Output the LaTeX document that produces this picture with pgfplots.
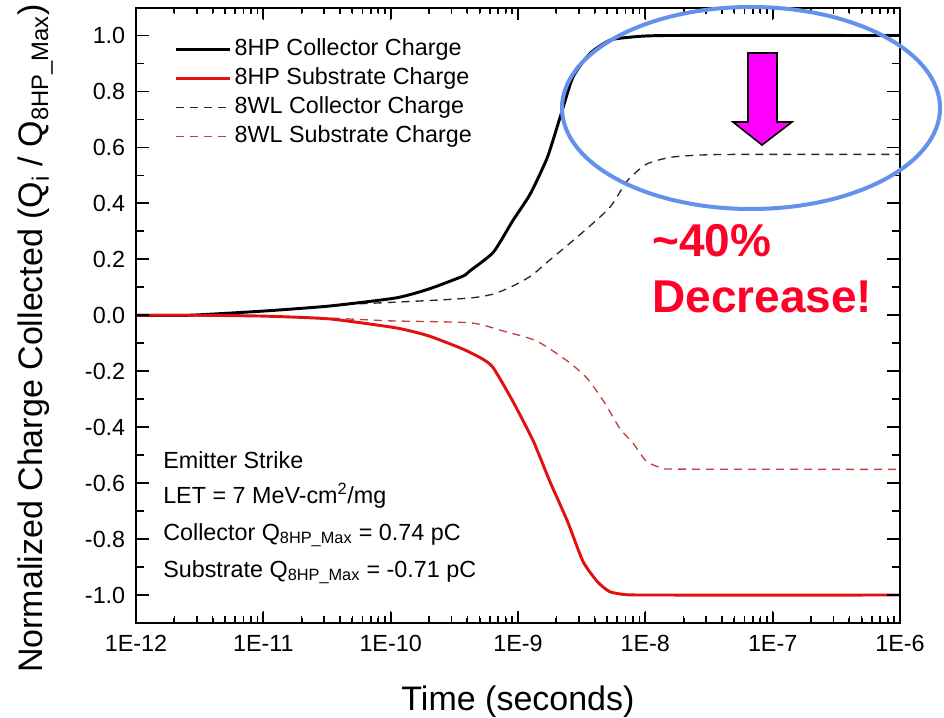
\documentclass[border=0pt]{standalone}
\usepackage{fontspec}
\setmainfont{Liberation Sans}
\usepackage{pgfplots}
\pgfplotsset{compat=1.18}

\definecolor{hpred}{RGB}{226,16,16}
\definecolor{wlred}{RGB}{196,64,64}
\definecolor{wlblack}{RGB}{40,40,40}
\definecolor{ringblue}{RGB}{100,145,235}
\definecolor{callred}{RGB}{255,0,40}
\definecolor{arrowmag}{RGB}{255,0,255}

\pgfplotsset{
  hpcol/.style={black, line width=2.2pt, smooth, tension=0.35},
  hpsub/.style={hpred, line width=2.2pt, smooth, tension=0.35},
  wlcol/.style={wlblack, line width=1pt, dash pattern=on 6pt off 4.5pt, smooth, tension=0.4},
  wlsub/.style={wlred, line width=1pt, dash pattern=on 6pt off 4.5pt, smooth, tension=0.4},
}
\tikzset{tickmark/.style={black, line width=1.3pt}}

\newcommand{\notefont}{\fontsize{17.5}{21}\selectfont}

\begin{document}
\begin{tikzpicture}
\begin{axis}[
  scale only axis, width=573pt, height=461.6pt,
  axis on top,
  xmode=log, xmin=1e-12, xmax=1e-6, ymin=-1.1, ymax=1.1,
  xtick={1e-12,1e-11,1e-10,1e-9,1e-8,1e-7,1e-6},
  xticklabels={1E-12,1E-11,1E-10,1E-9,1E-8,1E-7,1E-6},
  ytick={-1,-0.8,-0.6,-0.4,-0.2,0,0.2,0.4,0.6,0.8,1},
  yticklabels={-1.0,-0.8,-0.6,-0.4,-0.2,0.0,0.2,0.4,0.6,0.8,1.0},
  tick align=inside, tick pos=both,
  major tick length=9pt, minor tick length=5pt,
  every tick/.append style={black, line width=1.2pt},
  every axis/.append style={line width=1.5pt},
  tick label style={font=\notefont},
  yticklabel style={xshift=-4pt},
  xticklabel style={yshift=-5pt},
  xlabel={Time (seconds)},
  ylabel={Normalized Charge Collected (Q\textsubscript{i} / Q\textsubscript{8HP\_Max})},
  label style={font=\fontsize{25.5}{30}\selectfont},
  xlabel style={at={(axis description cs:0.5,-0.1414)}, anchor=base},
  ylabel style={at={(axis description cs:-0.1217,0.4622)}, anchor=base},
  legend cell align=left,
  legend image code/.code={\draw[#1, sharp plot] (0pt,0pt) -- (41pt,0pt);},
  legend style={draw=none, fill=none, at={(axis description cs:0.0489,0.956)},
    anchor=north west, font=\notefont, row sep=0.75pt,
    inner sep=0pt, nodes={inner sep=2pt, text height=13pt, text depth=4pt}},
]
% 8WL curves underneath the 8HP curves
\addplot[wlcol, forget plot] coordinates {
  (1e-12,0) (2.6e-12,0) (1e-11,0.015) (3.3e-11,0.033) (4.6e-11,0.039)
  (1e-10,0.046) (2.5e-10,0.055) (4.5e-10,0.063) (6.3e-10,0.075)
  (8.7e-10,0.1) (1.26e-9,0.14) (1.7e-9,0.19) (3.1e-9,0.29)
  (5.25e-9,0.385) (7.2e-9,0.48) (1.02e-8,0.54) (1.55e-8,0.564)
  (2.5e-8,0.572) (5e-8,0.575) (1e-6,0.575)
};
\addplot[wlsub, forget plot] coordinates {
  (1e-12,0) (3e-12,0) (1e-11,-0.003) (3.3e-11,-0.01) (1e-10,-0.02)
  (4.2e-10,-0.027) (7.6e-10,-0.056) (1.4e-9,-0.092) (2.45e-9,-0.164)
  (3.47e-9,-0.224) (4.7e-9,-0.307) (6.3e-9,-0.404) (8.1e-9,-0.46)
  (1.02e-8,-0.522) (1.38e-8,-0.547) (2e-8,-0.55) (1e-6,-0.551)
};
% 8HP curves
\addplot[hpcol] coordinates {
  (1e-12,0) (2.6e-12,0) (1e-11,0.015) (3.3e-11,0.033) (1.1e-10,0.062)
  (2e-10,0.094) (3.7e-10,0.14) (4.2e-10,0.159) (6.4e-10,0.225)
  (9.1e-10,0.338) (1.25e-9,0.434) (1.7e-9,0.564) (2.14e-9,0.707)
  (2.7e-9,0.851) (3.7e-9,0.937) (5.25e-9,0.983) (7.6e-9,0.994)
  (1.5e-8,1.0) (1e-6,1.0)
};
\addlegendentry{8HP Collector Charge}
\addplot[hpsub] coordinates {
  (1e-12,0) (3e-12,0) (1e-11,-0.003) (3.3e-11,-0.013) (1.1e-10,-0.045)
  (2e-10,-0.074) (3.7e-10,-0.121) (5.3e-10,-0.157) (6.4e-10,-0.188)
  (9.1e-10,-0.307) (1.32e-9,-0.45) (1.78e-9,-0.594) (2.45e-9,-0.737)
  (3.24e-9,-0.88) (4.2e-9,-0.952) (5.25e-9,-0.988) (7.2e-9,-0.999)
  (1.5e-8,-1.0) (1e-6,-1.0)
};
\addlegendentry{8HP Substrate Charge}
\addlegendimage{wlcol}
\addlegendentry{8WL Collector Charge}
\addlegendimage{wlsub}
\addlegendentry{8WL Substrate Charge}

% inward tick marks on all four sides of the frame
\pgfplotsinvokeforeach{-1,-0.8,-0.6,-0.4,-0.2,0,0.2,0.4,0.6,0.8,1}{
  \draw[tickmark] (axis cs:1e-12,#1) -- ++(10pt,0pt);
  \draw[tickmark] (axis cs:1e-6,#1) -- ++(-10pt,0pt);
}
\pgfplotsinvokeforeach{-0.9,-0.7,-0.5,-0.3,-0.1,0.1,0.3,0.5,0.7,0.9}{
  \draw[tickmark] (axis cs:1e-12,#1) -- ++(6pt,0pt);
  \draw[tickmark] (axis cs:1e-6,#1) -- ++(-6pt,0pt);
}
\pgfplotsinvokeforeach{1e-11,1e-10,1e-9,1e-8,1e-7}{
  \draw[tickmark] (axis cs:#1,-1.1) -- ++(0pt,8.5pt);
  \draw[tickmark] (axis cs:#1,1.1) -- ++(0pt,-8.5pt);
}
\pgfplotsinvokeforeach{2e-12,3e-12,4e-12,5e-12,6e-12,7e-12,8e-12,9e-12,
    2e-11,3e-11,4e-11,5e-11,6e-11,7e-11,8e-11,9e-11,
    2e-10,3e-10,4e-10,5e-10,6e-10,7e-10,8e-10,9e-10,
    2e-9,3e-9,4e-9,5e-9,6e-9,7e-9,8e-9,9e-9,
    2e-8,3e-8,4e-8,5e-8,6e-8,7e-8,8e-8,9e-8,
    2e-7,3e-7,4e-7,5e-7,6e-7,7e-7,8e-7,9e-7}{
  \draw[tickmark] (axis cs:#1,-1.1) -- ++(0pt,4pt);
  \draw[tickmark] (axis cs:#1,1.1) -- ++(0pt,-4pt);
}
\end{axis}

\begin{scope}[x=1pt, y=1pt]
  % simulation conditions
  \node[anchor=base west, inner sep=0pt, font=\notefont] at (20.25,116) {Emitter Strike};
  \node[anchor=base west, inner sep=0pt, font=\notefont] at (20.25,90) {LET = 7 MeV-cm\textsuperscript{2}/mg};
  \node[anchor=base west, inner sep=0pt, font=\notefont] at (20.25,62.25) {Collector Q\textsubscript{8HP\_Max} = 0.74 pC};
  \node[anchor=base west, inner sep=0pt, font=\notefont] at (20.25,34.5) {Substrate Q\textsubscript{8HP\_Max} = -0.71 pC};
  % callout
  \draw[ringblue, line width=3pt] (461.25,386.25) ellipse [x radius=141.75, y radius=75.75];
  \filldraw[fill=arrowmag, draw=black, line width=1.2pt, line join=miter]
    (459,427.5) -- (480.75,427.5) -- (480.75,375.75) -- (492,375.75)
    -- (469.5,358.5) -- (447.75,375.75) -- (459,375.75) -- cycle;
  \node[anchor=base west, inner sep=0pt, text=callred,
        font=\bfseries\fontsize{34.5}{42}\selectfont] at (387,274.5) {\textasciitilde 40\%};
  \node[anchor=base west, inner sep=0pt, text=callred,
        font=\bfseries\fontsize{34.5}{42}\selectfont] at (387,232.5) {Decrease!};
  \pgfresetboundingbox
  \useasboundingbox (-102,-70.5) rectangle (606,467.25);
\end{scope}
\end{tikzpicture}
\end{document}
